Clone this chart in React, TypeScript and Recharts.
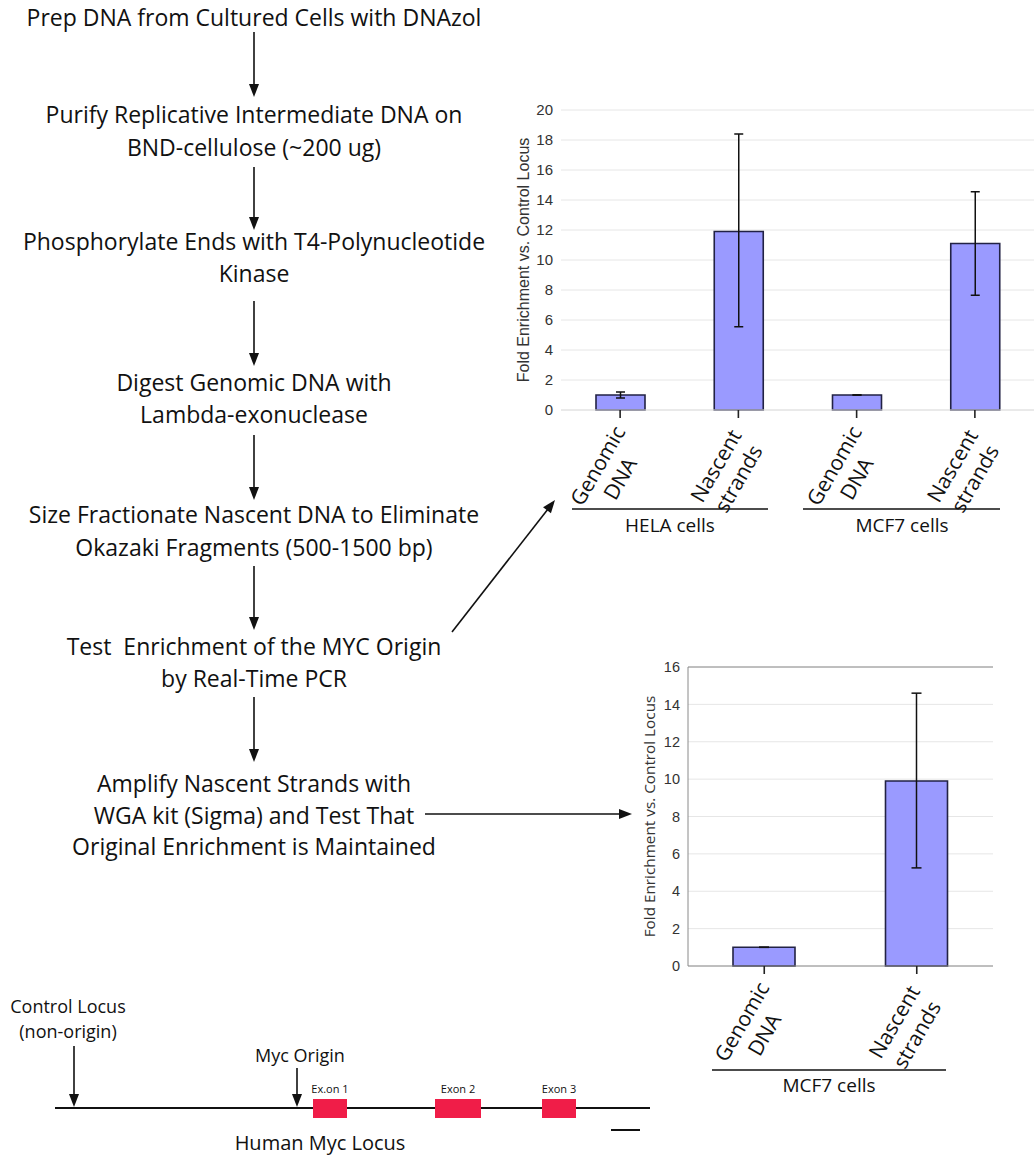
import React from 'react';
import { BarChart, Bar, XAxis, YAxis, CartesianGrid, ErrorBar, ReferenceLine } from 'recharts';

// panel A: nascent strand enrichment, HELA + MCF7
const sampleTypes = ['Genomic DNA', 'Nascent strands'];
const cellLinesA = ['HELA', 'MCF7'];
const foldA = [1.0, 11.9, 1.0, 11.1];
const errLowA = [0.2, 6.35, 0, 3.45];
const errHighA = [0.2, 6.5, 0, 3.45];
const ticksA = [0, 2, 4, 6, 8, 10, 12, 14, 16, 18, 20];

// panel B: after WGA amplification, MCF7 only
const cellLinesB = ['MCF7'];
const foldB = [1.0, 9.9];
const errLowB = [0, 4.65];
const errHighB = [0, 4.7];
const ticksB = [0, 2, 4, 6, 8, 10, 12, 14, 16];

const yLabel = 'Fold Enrichment vs. Control Locus';

const buildRows = (cells: string[], fold: number[], lo: number[], hi: number[]) =>
  cells.flatMap((c, i) =>
    sampleTypes.map((s, j) => {
      const k = i * sampleTypes.length + j;
      return { key: `${c} ${s}`, fold: fold[k], err: [lo[k], hi[k]] };
    })
  );

const dataA = buildRows(cellLinesA, foldA, errLowA, errHighA);
const dataB = buildRows(cellLinesB, foldB, errLowB, errHighB);

const flowSteps = [
  { lines: ['Prep DNA from Cultured Cells with DNAzol'], y: [26] },
  { lines: ['Purify Replicative Intermediate DNA on', 'BND-cellulose (~200 ug)'], y: [123, 156] },
  { lines: ['Phosphorylate Ends with T4-Polynucleotide', 'Kinase'], y: [250, 282] },
  { lines: ['Digest Genomic DNA with', 'Lambda-exonuclease'], y: [391, 423] },
  { lines: ['Size Fractionate Nascent DNA to Eliminate', 'Okazaki Fragments (500-1500 bp)'], y: [523, 556] },
  { lines: ['Test  Enrichment of the MYC Origin', 'by Real-Time PCR'], y: [655, 687] },
  { lines: ['Amplify Nascent Strands with', 'WGA kit (Sigma) and Test That', 'Original Enrichment is Maintained'], y: [792, 824, 855] },
];
const flowArrows = [[32, 97], [167, 230], [301, 366], [435, 500], [566, 630], [697, 762]];

const textFont = '"Open Sans", "Noto Sans", sans-serif';
const axisFont = '"Liberation Sans", Arial, sans-serif';
const ink = '#111';

const Arrow = ({ x1, y1, x2, y2, head = 13, w = 5 }: any) => {
  const len = Math.hypot(x2 - x1, y2 - y1);
  const ux = (x2 - x1) / len;
  const uy = (y2 - y1) / len;
  const bx = x2 - ux * head;
  const by = y2 - uy * head;
  const pts = `${x2},${y2} ${bx - uy * w},${by + ux * w} ${bx + uy * w},${by - ux * w}`;
  return (
    <g>
      <line x1={x1} y1={y1} x2={bx + ux * 2} y2={by + uy * 2} stroke={ink} strokeWidth={1.6} />
      <polygon points={pts} fill={ink} />
    </g>
  );
};

const SampleTick = (props: any) => {
  const { x, y, payload, fontSize, lh } = props;
  const lines = String(payload.value).split(' ').slice(1);
  const half = Math.max(...lines.map((l) => l.length)) * fontSize * 0.29;
  return (
    <g transform={`translate(${x + 1},${y + 10}) rotate(-60)`}>
      {lines.map((l, i) => (
        <text key={i} x={-half} y={5 + i * lh} textAnchor="middle" fontSize={fontSize}
          fontFamily={textFont} fill={ink}>{l}</text>
      ))}
    </g>
  );
};

const barFill = '#9a9aff';
const barStroke = '#222244';

const App: React.FC = () => {
  return (
    <div style={{ position: 'absolute', left: 0, top: 0, width: 1034, height: 1158, background: '#fff' }}>
      <div style={{ position: 'absolute', left: 500, top: 90 }}>
        <BarChart width={534} height={430} data={dataA} margin={{ top: 20, right: 0, bottom: 0, left: 0 }}>
          <CartesianGrid vertical={false} stroke="#e6e6e6" />
          <XAxis dataKey="key" height={110} axisLine={{ stroke: '#e0e0e0' }}
            tickLine={{ stroke: '#222', strokeWidth: 1.6 }} tickSize={8} interval={0}
            tick={(p: any) => <SampleTick {...p} fontSize={21} lh={26} />} />
          <YAxis domain={[0, 20]} ticks={ticksA} width={61} axisLine={false} tickLine={false}
            tick={{ fill: '#333', fontSize: 15, fontFamily: axisFont }}
            label={{ value: yLabel, angle: -90, position: 'insideLeft', offset: 23,
              style: { textAnchor: 'middle', fontSize: 16, fill: '#333', fontFamily: axisFont } }} />
          <Bar dataKey="fold" fill={barFill} stroke={barStroke} strokeWidth={1.6} barSize={49}
            isAnimationActive={false}>
            <ErrorBar dataKey="err" width={4.5} stroke={ink} strokeWidth={1.5} />
          </Bar>
        </BarChart>
      </div>

      <div style={{ position: 'absolute', left: 620, top: 650 }}>
        <BarChart width={383} height={426} data={dataB} margin={{ top: 17, right: 10, bottom: 0, left: 0 }}>
          <CartesianGrid vertical={false} stroke="#e6e6e6" />
          <XAxis dataKey="key" height={110} axisLine={{ stroke: '#8a8a8a' }}
            tickLine={{ stroke: '#222', strokeWidth: 1.6 }} tickSize={8} interval={0}
            tick={(p: any) => <SampleTick {...p} fontSize={21} lh={26} />} />
          <YAxis domain={[0, 16]} ticks={ticksB} width={68} axisLine={{ stroke: '#8a8a8a' }} tickLine={false}
            tick={{ fill: '#333', fontSize: 14.5, fontFamily: axisFont }}
            label={{ value: yLabel, angle: -90, position: 'insideLeft', offset: 30,
              style: { textAnchor: 'middle', fontSize: 15.3, fill: '#333', fontFamily: textFont } }} />
          <YAxis yAxisId="frame" orientation="right" width={0} tick={false} tickLine={false}
            axisLine={{ stroke: '#8a8a8a' }} />
          <ReferenceLine y={16} stroke="#8a8a8a" />
          <Bar dataKey="fold" fill={barFill} stroke={barStroke} strokeWidth={1.6} barSize={62}
            isAnimationActive={false}>
            <ErrorBar dataKey="err" width={5} stroke={ink} strokeWidth={1.5} />
          </Bar>
        </BarChart>
      </div>

      <svg width={1034} height={1158} style={{ position: 'absolute', left: 0, top: 0, pointerEvents: 'none' }}>
        <g fontFamily={textFont} fill={ink} textAnchor="middle">
          {flowSteps.map((s, i) =>
            s.lines.map((l, j) => (
              <text key={`${i}-${j}`} x={254} y={s.y[j]} fontSize={23} style={{ whiteSpace: 'pre' }}>{l}</text>
            ))
          )}
        </g>
        {flowArrows.map(([a, b], i) => (
          <Arrow key={i} x1={254} y1={a} x2={254} y2={b} />
        ))}
        <Arrow x1={452} y1={632} x2={555} y2={500} />
        <Arrow x1={425} y1={814} x2={632} y2={814} />

        {/* group brackets */}
        <line x1={572} y1={509} x2={768} y2={509} stroke={ink} strokeWidth={1.6} />
        <line x1={803} y1={509} x2={1000} y2={509} stroke={ink} strokeWidth={1.6} />
        <line x1={712} y1={1070} x2={946} y2={1070} stroke={ink} strokeWidth={1.6} />
        <g fontFamily={textFont} fill={ink} textAnchor="middle" fontSize={19}>
          <text x={670} y={532}>HELA cells</text>
          <text x={902} y={532}>MCF7 cells</text>
          <text x={829} y={1092}>MCF7 cells</text>
        </g>

        {/* human myc locus */}
        <line x1={55} y1={1108} x2={650} y2={1108} stroke={ink} strokeWidth={2} />
        <rect x={313} y={1099} width={34} height={19} fill="#f01d48" />
        <rect x={435} y={1099} width={46} height={19} fill="#f01d48" />
        <rect x={542} y={1099} width={34} height={19} fill="#f01d48" />
        <line x1={611} y1={1130} x2={640} y2={1130} stroke={ink} strokeWidth={2} />
        <Arrow x1={74} y1={1046} x2={74} y2={1107} />
        <Arrow x1={297} y1={1068} x2={297} y2={1107} />
        <g fontFamily={textFont} fill={ink} textAnchor="middle">
          <text x={330} y={1093} fontSize={11}>Ex.on 1</text>
          <text x={458} y={1093} fontSize={11}>Exon 2</text>
          <text x={559} y={1093} fontSize={11}>Exon 3</text>
          <text x={68} y={1013} fontSize={18}>Control Locus</text>
          <text x={68} y={1038} fontSize={18}>(non-origin)</text>
          <text x={300} y={1062} fontSize={18}>Myc Origin</text>
          <text x={320} y={1150} fontSize={20}>Human Myc Locus</text>
        </g>
      </svg>
    </div>
  );
};

export default App;
